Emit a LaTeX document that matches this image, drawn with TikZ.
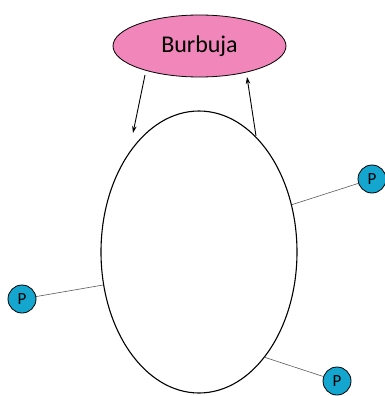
\documentclass[tikz,border=0pt]{standalone}
\usepackage{fontspec}
\setmainfont{Carlito}
\usetikzlibrary{shapes.geometric,arrows.meta}
\definecolor{bubblepink}{HTML}{F086B9}
\definecolor{pcyan}{HTML}{14A6CE}
\begin{document}
\begin{tikzpicture}[x=1pt,y=-1pt,
  bubble/.style={ellipse,draw=black,line width=0.8pt,fill=bubblepink,minimum width=173pt,minimum height=62pt,inner sep=0pt,font=\fontsize{24}{28}\selectfont},
  cell/.style={ellipse,draw=black,line width=1.1pt,fill=white,minimum width=196pt,minimum height=282pt,inner sep=0pt},
  pnode/.style={circle,draw=black,line width=0.8pt,fill=pcyan,minimum size=28pt,inner sep=0pt,font=\fontsize{17}{20}\selectfont},
  link/.style={draw=black!65,line width=0.6pt},
  flow/.style={draw=black,line width=0.9pt,-{Stealth[length=7pt,width=4.5pt]}}]
\useasboundingbox (0,0) rectangle (385,396);
\node[bubble] (burbuja) at (199.5,46) {Burbuja};
\node[cell] (celula) at (199,252) {};
\node[pnode] (p1) at (372,179) {P};
\node[pnode] (p2) at (22,299) {P};
\node[pnode] (p3) at (337,381) {P};
\coordinate (a1s) at (145,75);
\coordinate (a1e) at (133,133);
\coordinate (a2s) at (256,136);
\coordinate (a2e) at (247,77);
\draw[flow] (a1s) -- (a1e);
\draw[flow] (a2s) -- (a2e);
\draw[link] (celula.27) -- (p1);
\draw[link] (celula.199.5) -- (p2);
\draw[link] (celula.302) -- (p3);
\end{tikzpicture}
\end{document}
